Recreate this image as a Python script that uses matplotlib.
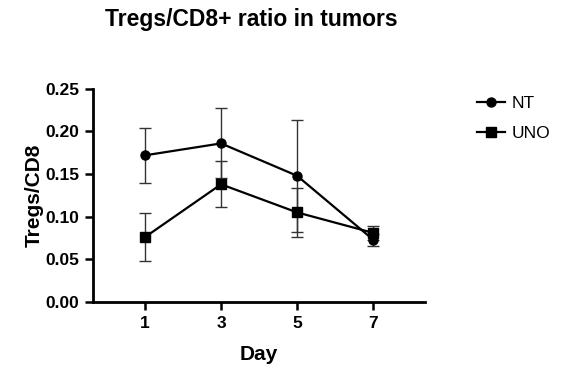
import matplotlib
matplotlib.use("Agg")
import matplotlib.pyplot as plt
from matplotlib.lines import Line2D

plt.rcParams['font.family'] = ['Liberation Sans', 'DejaVu Sans']

days = [1, 3, 5, 7]
nt_mean = [0.172, 0.186, 0.148, 0.073]
nt_err = [0.032, 0.041, 0.066, 0.007]
uno_mean = [0.076, 0.138, 0.105, 0.081]
uno_err = [0.028, 0.027, 0.029, 0.008]
yticks = [0.00, 0.05, 0.10, 0.15, 0.20, 0.25]
ytick_labels = ["0.00", "0.05", "0.10", "0.15", "0.20", "0.25"]

fig = plt.figure(figsize=(5.77, 3.75), dpi=100)
ax = fig.add_axes([0.161, 0.195, 0.576, 0.568])

ax.errorbar(days, nt_mean, yerr=nt_err, fmt='none', ecolor='#333333',
            elinewidth=1.0, capsize=4, capthick=1.0, zorder=2)
ax.errorbar(days, uno_mean, yerr=uno_err, fmt='none', ecolor='#333333',
            elinewidth=1.0, capsize=4, capthick=1.0, zorder=2)
ax.plot(days, nt_mean, color='black', lw=1.6, marker='o', ms=6.5, zorder=3)
ax.plot(days, uno_mean, color='black', lw=1.6, marker='s', ms=6.5, zorder=3)

ax.set_xlim(-0.37, 8.37)
ax.set_ylim(0, 0.25)
ax.set_xticks(days)
ax.set_xticklabels([str(d) for d in days], fontweight='bold', fontsize=12.5)
ax.set_yticks(yticks)
ax.set_yticklabels(ytick_labels, fontweight='bold', fontsize=12.5)
for s in ['top', 'right']:
    ax.spines[s].set_visible(False)
for s in ['left', 'bottom']:
    ax.spines[s].set_linewidth(2)
ax.tick_params(width=1.8, length=6, direction='out', pad=4)

ax.set_xlabel("Day", fontweight='bold', fontsize=15, labelpad=10)
ax.set_ylabel("Tregs/CD8", fontweight='bold', fontsize=15, labelpad=1)

fig.text(0.435, 0.947, "Tregs/CD8+ ratio in tumors", ha='center', va='center',
         fontweight='bold', fontsize=16.5)

handles = [Line2D([0], [0], color='black', lw=1.6, marker='o', ms=6.5),
           Line2D([0], [0], color='black', lw=1.6, marker='s', ms=6.5)]
fig.legend(handles, ["NT", "UNO"], loc='upper left', bbox_to_anchor=(0.80, 0.785),
           frameon=False, fontsize=12.5, handlelength=1.6, labelspacing=0.85,
           handletextpad=0.4)

fig.savefig("out.png", dpi=100)
